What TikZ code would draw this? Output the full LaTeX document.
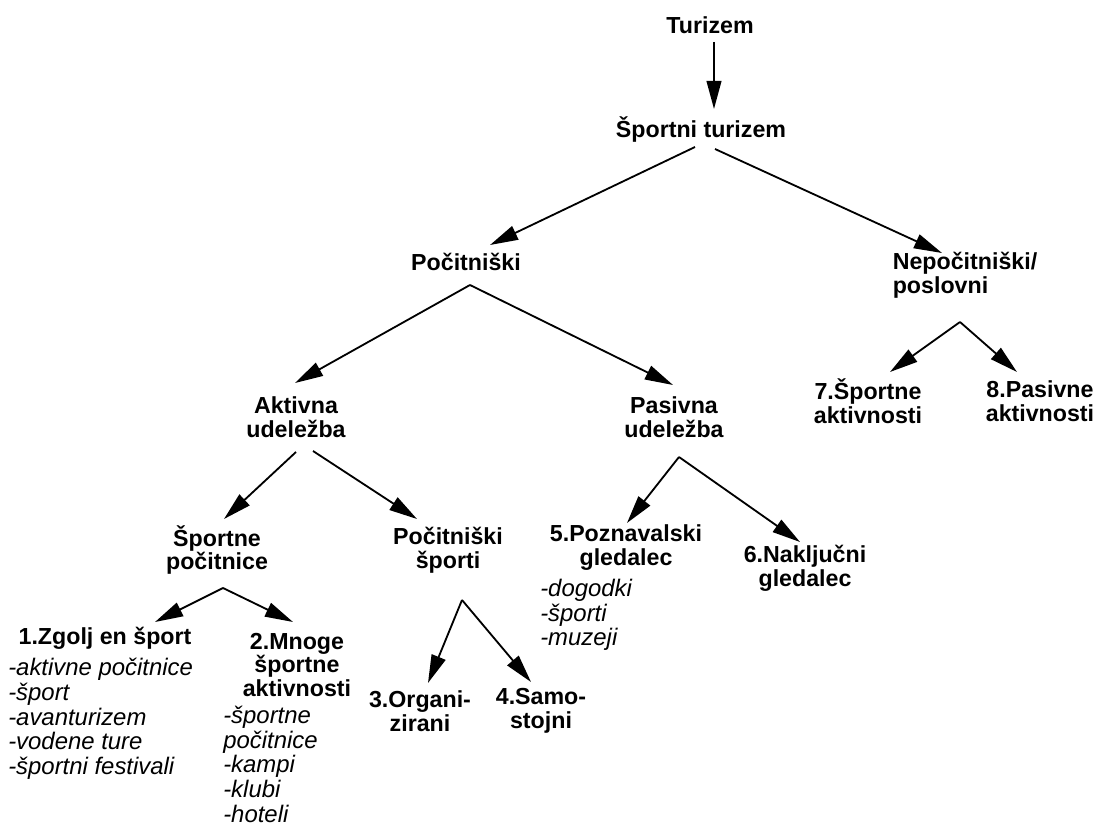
\documentclass[tikz,border=0pt]{standalone}
\usepackage{fontspec}
\setmainfont{Liberation Sans}
\usetikzlibrary{
    positioning,
    calc,
    arrows.meta
}
\tikzset{
    >={Triangle[length=20pt,width=10.5pt]},
    box/.style={
        font=\bfseries\fontsize{16.5}{17}\selectfont,
        align=center,
        inner sep=0pt
    },
    lst/.style={
        font=\itshape\fontsize{17}{17.6}\selectfont,
        align=left,
        anchor=west,
        inner sep=0pt
    },
    arr/.style={->, line width=1.3pt}
}

\begin{document}
\begin{tikzpicture}[
    x=0.025cm,
    y=-0.025cm
]
    \useasboundingbox (0,0) rectangle (1099,826);

    % Vozlisca
    \node[box] (tz) at (710,25)    {Turizem};
    \node[box] (st) at (701,130)   {Športni turizem};
    \node[box] (po) at (466,262)   {Počitniški};
    \node[box, align=left] (ne) at (965,275.5) {Nepočitniški/\\poslovni};
    \node[box] (ak) at (296,417.5) {Aktivna\\udeležba};
    \node[box] (pa) at (674,417.5) {Pasivna\\udeležba};
    \node[box] (a7) at (868,401.5) {7.Športne\\aktivnosti};
    \node[box] (a8) at (1040,401.5) {8.Pasivne\\aktivnosti};
    \node[box] (sp) at (217,550)   {Športne\\počitnice};
    \node[box] (ps) at (448,550)   {Počitniški\\športi};
    \node[box] (p5) at (626,547.5) {5.Poznavalski\\gledalec};
    \node[box] (n6) at (805,568.5) {6.Naključni\\gledalec};
    \node[box] (z1) at (105,638)   {1.Zgolj en šport};
    \node[box] (m2) at (297,665)   {2.Mnoge\\športne\\aktivnosti};
    \node[box] (o3) at (420,711)   {3.Organi-\\zirani};
    \node[box] (s4) at (541,711)   {4.Samo-\\stojni};

    % Seznami
    \node[lst] (l1) at (8,719)     {-aktivne počitnice\\-šport\\-avanturizem\\-vodene ture\\-športni festivali};
    \node[lst, anchor=south west] (l2) at (223,823) {-športne\\počitnice\\-kampi\\-klubi\\-hoteli};
    \node[lst] (l5) at (540,615)   {-dogodki\\-športi\\-muzeji};

    % Povezave
    \draw[arr] ($(tz.center)+(4,17)$)  -- ($(st.center)+(13,-21)$);
    \draw[arr] ($(st.center)+(-6,17)$) -- ($(po.center)+(24,-17)$);
    \draw[arr] ($(st.center)+(14,19)$) -- ($(ne.center)+(-23,-22.5)$);

    \draw[arr] ($(po.center)+(4,23)$)  -- ($(ak.center)+(-1,-34.5)$);
    \draw[arr] ($(po.center)+(4,23)$)  -- ($(pa.center)+(-1,-32.5)$);

    \draw[arr] ($(ne.center)+(-5,46.5)$) -- ($(a7.center)+(22,-29.5)$);
    \draw[arr] ($(ne.center)+(-5,46.5)$) -- ($(a8.center)+(-23,-29.5)$);

    \draw[arr] ($(ak.center)+(0,34.5)$)  -- ($(sp.center)+(7,-31)$);
    \draw[arr] ($(ak.center)+(17,33.5)$) -- ($(ps.center)+(-31,-31)$);

    \draw[arr] ($(pa.center)+(5,39.5)$) -- ($(p5.center)+(1,-24.5)$);
    \draw[arr] ($(pa.center)+(5,39.5)$) -- ($(n6.center)+(-5,-26.5)$);

    \draw[arr] ($(sp.center)+(6,38)$) -- ($(z1.center)+(50,-16)$);
    \draw[arr] ($(sp.center)+(6,38)$) -- ($(m2.center)+(-4,-43)$);

    \draw[arr] ($(ps.center)+(14,50)$) -- ($(o3.center)+(8,-28)$);
    \draw[arr] ($(ps.center)+(14,50)$) -- ($(s4.center)+(-10,-29)$);

\end{tikzpicture}
\end{document}
